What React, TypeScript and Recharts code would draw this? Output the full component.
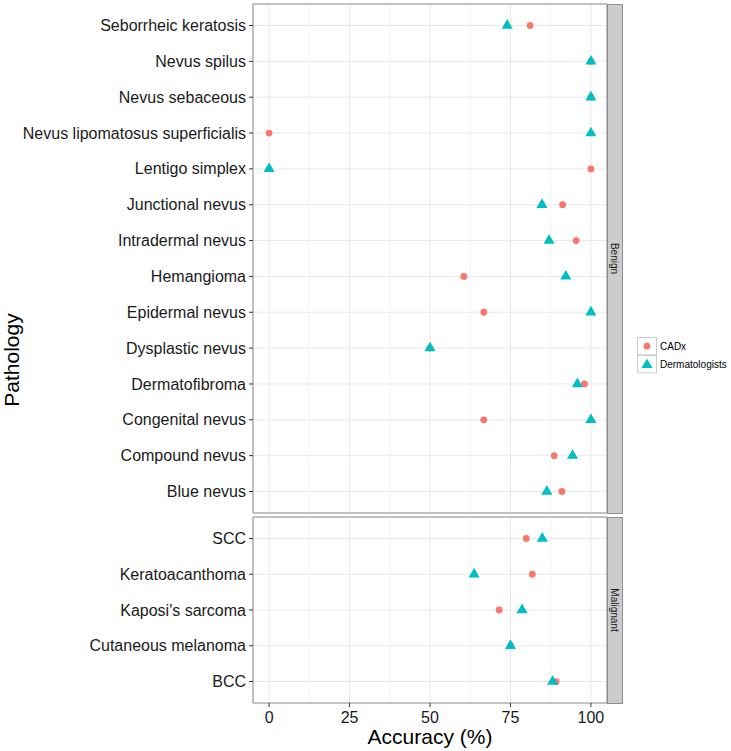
import React from 'react';
import { ScatterChart, Scatter, XAxis, YAxis, CartesianGrid, ReferenceArea, Legend } from 'recharts';

const FONT = '"Liberation Sans", Arial, Helvetica, sans-serif';

const benignCategories = [
  'Blue nevus', 'Compound nevus', 'Congenital nevus', 'Dermatofibroma', 'Dysplastic nevus',
  'Epidermal nevus', 'Hemangioma', 'Intradermal nevus', 'Junctional nevus', 'Lentigo simplex',
  'Nevus lipomatosus superficialis', 'Nevus sebaceous', 'Nevus spilus', 'Seborrheic keratosis',
];
const benignCADx = [91, 88.6, 66.7, 98, 50, 66.7, 60.5, 95.4, 91.2, 100, 0, 100, 100, 81.1];
const benignDerm = [86.3, 94.3, 100, 95.8, 50, 100, 92.2, 87, 84.8, 0, 100, 100, 100, 74];

const malignantCategories = ['BCC', 'Cutaneous melanoma', "Kaposi's sarcoma", 'Keratoacanthoma', 'SCC'];
const malignantCADx = [89.2, 75, 71.5, 81.8, 79.9];
const malignantDerm = [88.1, 75, 78.6, 63.7, 84.9];

const xMajorTicks = [0, 25, 50, 75, 100];
const xMinorTicks = [12.5, 37.5, 62.5, 87.5];
const xDomain = [-5, 105];
const seriesNames = ['CADx', 'Dermatologists'];
const seriesColors = ['#F8766D', '#00BFC4'];
const facetNames = ['Benign', 'Malignant'];

const CircleShape = (props: any) => (
  <circle cx={props.cx} cy={props.cy} r={3.4} fill={props.fill} />
);
const TriangleShape = (props: any) => {
  const { cx, cy, fill } = props;
  return (
    <polygon
      points={`${cx},${cy - 6.4} ${cx + 5.54},${cy + 3.2} ${cx - 5.54},${cy + 3.2}`}
      fill={fill}
    />
  );
};

const renderLegend = (props: any) => (
  <div style={{ fontFamily: FONT, fontSize: 10, color: '#000' }}>
    {(props.payload || []).map((e: any, i: number) => (
      <div key={e.value} style={{ display: 'flex', alignItems: 'center', height: 18.3 }}>
        <svg width={20} height={18.3} style={{ display: 'block' }}>
          <rect x={0.5} y={0.5} width={19} height={17.3} fill="#fff" stroke="#cccccc" />
          {i === 0 ? (
            <CircleShape cx={10} cy={9.2} fill={e.color} />
          ) : (
            <TriangleShape cx={10} cy={9.8} fill={e.color} />
          )}
        </svg>
        <span style={{ marginLeft: 3 }}>{e.value}</span>
      </div>
    ))}
  </div>
);

function Panel(props: {
  categories: string[];
  cadx: number[];
  derm: number[];
  height: number;
  marginTop: number;
  marginBottom: number;
  showX: boolean;
  showLegend: boolean;
}) {
  const { categories, cadx, derm, height, marginTop, marginBottom, showX, showLegend } = props;
  const n = categories.length;
  const idx = categories.map((_, i) => i);
  const cadxData = categories.map((c, i) => ({ x: cadx[i], y: i, name: c }));
  const dermData = categories.map((c, i) => ({ x: derm[i], y: i, name: c }));
  const yDomain = [-0.6, n - 1 + 0.6];
  const YTick = (p: any) => (
    <text
      x={p.x}
      y={p.y}
      dy={5.6}
      textAnchor="end"
      fontSize={16}
      fontFamily={FONT}
      fill="#1a1a1a"
    >
      {categories[p.payload.value]}
    </text>
  );
  return (
    <ScatterChart
      width={731}
      height={height}
      margin={{ top: marginTop, right: 124, left: 0, bottom: marginBottom }}
    >
      <XAxis xAxisId="minor" type="number" dataKey="x" domain={xDomain} ticks={xMinorTicks} hide allowDataOverflow />
      <XAxis
        xAxisId="major"
        type="number"
        dataKey="x"
        domain={xDomain}
        ticks={xMajorTicks}
        interval={0}
        allowDataOverflow
        hide={!showX}
        height={48}
        axisLine={false}
        tickSize={4}
        tickMargin={5}
        tickLine={{ stroke: '#333333' }}
        tick={{ fontSize: 16, fill: '#1a1a1a', fontFamily: FONT }}
        label={{
          value: 'Accuracy (%)',
          position: 'insideBottom',
          offset: 7,
          fontSize: 21,
          fill: '#000',
          fontFamily: FONT,
        }}
      />
      <YAxis
        type="number"
        dataKey="y"
        domain={yDomain}
        ticks={idx}
        interval={0}
        allowDataOverflow
        width={253}
        axisLine={false}
        tickSize={4}
        tickMargin={3}
        tickLine={{ stroke: '#333333' }}
        tick={YTick}
      />
      <CartesianGrid xAxisId="minor" horizontal={false} stroke="#F3F3F3" />
      <CartesianGrid xAxisId="major" stroke="#E9E9E9" />
      <ReferenceArea
        xAxisId="major"
        x1={xDomain[0]}
        x2={xDomain[1]}
        y1={yDomain[0]}
        y2={yDomain[1]}
        fill="none"
        fillOpacity={0}
        stroke="#8f8f8f"
        strokeWidth={1}
      />
      <Scatter
        xAxisId="major"
        name={seriesNames[0]}
        data={cadxData}
        fill={seriesColors[0]}
        shape={CircleShape}
        legendType="circle"
        isAnimationActive={false}
      />
      <Scatter
        xAxisId="major"
        name={seriesNames[1]}
        data={dermData}
        fill={seriesColors[1]}
        shape={TriangleShape}
        legendType="triangle"
        isAnimationActive={false}
      />
      {showLegend && (
        <Legend
          layout="vertical"
          align="center"
          verticalAlign="middle"
          content={renderLegend}
          wrapperStyle={{ position: 'absolute', left: 637, top: 337, width: 94 }}
        />
      )}
    </ScatterChart>
  );
}

export default function App() {
  return (
    <div style={{ position: 'absolute', left: 0, top: 0, width: 731, height: 751, background: '#fff', fontFamily: FONT }}>
      <div style={{ position: 'absolute', left: 0, top: 0 }}>
        <Panel
          categories={benignCategories}
          cadx={benignCADx}
          derm={benignDerm}
          height={520}
          marginTop={4}
          marginBottom={7}
          showX={false}
          showLegend={true}
        />
      </div>
      <div style={{ position: 'absolute', left: 0, top: 0 }}>
        <Panel
          categories={malignantCategories}
          cadx={malignantCADx}
          derm={malignantDerm}
          height={751}
          marginTop={517}
          marginBottom={0}
          showX={true}
          showLegend={false}
        />
      </div>
      <svg
        width={731}
        height={751}
        style={{ position: 'absolute', left: 0, top: 0, pointerEvents: 'none' }}
      >
        <rect x={607.5} y={4.5} width={15} height={509} fill="#cccccc" stroke="#8f8f8f" />
        <text
          transform="translate(615,258.5) rotate(90)"
          textAnchor="middle"
          dy={3.6}
          fontSize={10}
          fontFamily={FONT}
          fill="#1a1a1a"
        >
          {facetNames[0]}
        </text>
        <rect x={607.5} y={517.5} width={15} height={186} fill="#cccccc" stroke="#8f8f8f" />
        <text
          transform="translate(615,610) rotate(90)"
          textAnchor="middle"
          dy={3.6}
          fontSize={10}
          fontFamily={FONT}
          fill="#1a1a1a"
        >
          {facetNames[1]}
        </text>
        <text
          transform="translate(19,360) rotate(-90)"
          textAnchor="middle"
          fontSize={21}
          fontFamily={FONT}
          fill="#000"
        >
          Pathology
        </text>
      </svg>
    </div>
  );
}
